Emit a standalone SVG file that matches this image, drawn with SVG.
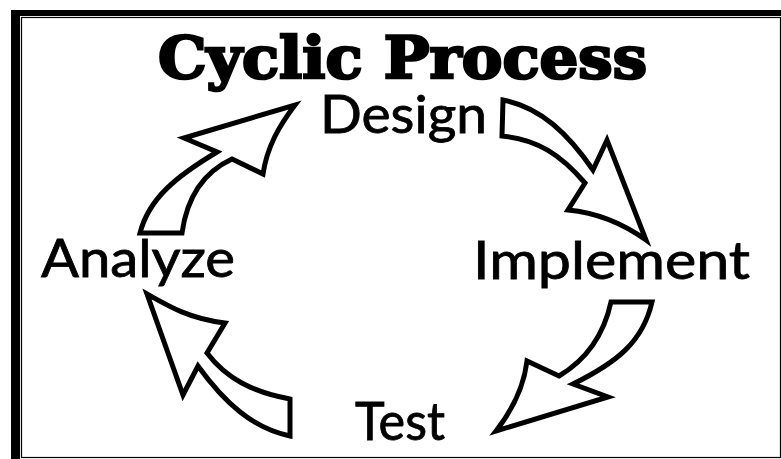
<svg xmlns="http://www.w3.org/2000/svg" width="781" height="459" viewBox="0 0 781 459">
<style>
.t{font-family:"DejaVu Serif","Liberation Serif",serif;font-weight:900;font-size:57px;fill:#000;stroke:#000;stroke-width:2.6px}
.l{font-family:"Lato","Liberation Sans",sans-serif;font-size:52px;fill:#000;stroke:#000;stroke-width:.8px}
.a{fill:#fff;stroke:#000;stroke-width:5;stroke-linejoin:miter;stroke-miterlimit:8}
</style>
<rect width="781" height="459" fill="#fff"/>
<g id="frame">
<rect x="11" y="10" width="770" height="6" fill="#000"/>
<rect x="11" y="10" width="9" height="449" fill="#000"/>
<rect x="21.5" y="17.5" width="759" height="440" fill="none" stroke="#000" stroke-width="1.2"/>
</g>
<text id="title" class="t" x="158" y="78" textLength="489" lengthAdjust="spacingAndGlyphs">Cyclic Process</text>
<g id="design"><text class="l" x="320" y="133" textLength="167" lengthAdjust="spacingAndGlyphs">Design</text></g>
<g id="implement"><text class="l" x="473" y="279" textLength="277" lengthAdjust="spacingAndGlyphs">Implement</text></g>
<g id="test"><text class="l" x="355" y="440" textLength="90" lengthAdjust="spacingAndGlyphs">Test</text></g>
<g id="analyze"><text class="l" x="41" y="277" textLength="194" lengthAdjust="spacingAndGlyphs">Analyze</text></g>
<g id="connectors">
<path class="a" d="M140 233C149 198 177 176 217 152L184 138L295 105C279 126 267 147 263 174L232 159C204 172 187 197 182 233Z"/>
<path class="a" d="M503 100C541 107 569 135 593 170L607 140L646 240C625 225 600 213 568 210L585 183C561 155 537 139 502 136Z"/>
<path class="a" d="M611 302H652C643 341 618 362 573 384L608 397L496 431C514 408 524 386 527 361L559 376C586 360 604 334 611 302Z"/>
<path class="a" d="M290 399V436C252 428 224 402 198 366L183 395L147 294C168 306 190 319 225 323L207 353C226 378 252 392 290 399Z"/>
</g>
</svg>
